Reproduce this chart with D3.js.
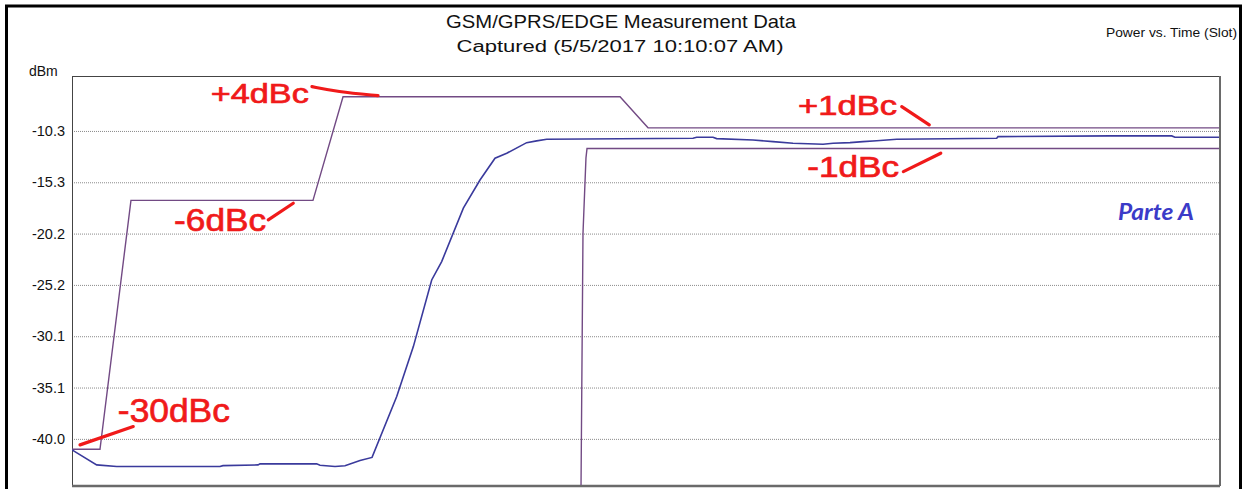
<!DOCTYPE html>
<meta charset="utf-8">
<head>
  <title>GSM/GPRS/EDGE Power vs. Time</title>
  <script src="https://cdn.jsdelivr.net/npm/d3@7"></script>
  <style>
    body { margin: 0; background: #fff; }
    text { font-family: "Liberation Sans", Arial, sans-serif; }
    .grid line { stroke: #8a8a8a; stroke-dasharray: 1,1; }
    .grid path { display: none; }
  </style>
</head>
<body>
<div id="chart"></div>
<script>
  // ---- data (time in % of slot view, power in dBm) ----
  var tickValues = [-10.3, -15.25, -20.2, -25.15, -30.1, -35.05, -40.0];
  var tickLabels = ["-10.3", "-15.3", "-20.2", "-25.2", "-30.1", "-35.1", "-40.0"];

  // upper limit mask
  var upperT = [0, 2.44, 5.14, 21.01, 23.63, 47.78, 50.22, 100];
  var upperV = [-41.0, -41.0, -17.0, -17.0, -7.0, -7.0, -10.0, -10.0];

  // lower limit mask (starts below the visible range)
  var lowerT = [44.34, 44.55, 44.81, 44.90, 100];
  var lowerV = [-50.0, -20.2, -12.9, -12.0, -12.0];

  // measured burst
  var traceT = [0, 2.15, 3.90, 12.90, 13.16, 16.22, 16.39, 21.33, 21.62, 22.93, 23.80, 25.11, 26.16,
                28.31, 29.76, 31.36, 32.23, 34.12, 35.57, 36.88, 37.90, 39.64, 40.51, 41.39,
                54.14, 54.46, 55.88, 56.20, 59.37, 61.12, 62.86, 65.48, 66.35, 67.83, 68.96,
                70.16, 71.90, 80.62, 80.73, 90.50, 95.88, 96.16, 100];
  var traceV = [-41.06, -42.51, -42.67, -42.67, -42.58, -42.51, -42.41, -42.41, -42.54, -42.67, -42.60, -42.09, -41.79,
                -35.92, -31.10, -24.67, -22.90, -17.75, -15.03, -12.93, -12.45, -11.43, -11.26, -11.10,
                -11.00, -10.91, -10.91, -11.04, -11.17, -11.33, -11.49, -11.58, -11.49, -11.43, -11.33,
                -11.24, -11.10, -11.00, -10.85, -10.78, -10.78, -10.91, -10.91];

  // annotations (red hand-drawn notes)
  var noteText = ["+4dBc", "-6dBc", "-30dBc", "+1dBc", "-1dBc"];
  var noteT    = [12.1, 8.9, 4.0, 63.3, 64.1];
  var noteV    = [-7.6, -19.91, -38.33, -8.76, -14.71];
  var noteLead = [
    [[20.92, -6.03], [23.08, -6.51], [26.68, -6.90]],
    [[17.11, -18.88], [19.29, -17.27]],
    [[0.70, -40.58], [5.34, -38.81]],
    [[72.34, -7.96], [74.74, -9.72]],
    [[72.48, -14.22], [75.74, -12.45]]
  ];

  // ---- layout ----
  const width = 1244, height = 489;
  const margin = {top: 76, right: 25, bottom: 4, left: 72};
  const pw = width - margin.left - margin.right;
  const ph = height - margin.top - margin.bottom;

  var svg = d3.select("#chart").append("svg")
      .attr("width", width).attr("height", height);

  // outer frame
  svg.append("rect")
      .attr("x", 6.5).attr("y", 6).attr("width", 1234).attr("height", 500)
      .attr("fill", "none").attr("stroke", "#000").attr("stroke-width", 3);

  var x = d3.scaleLinear().domain([0, 100]).range([0, pw]);
  var y = d3.scaleLinear().domain([-44.45, -5.0]).range([ph, 0]);

  // titles
  svg.append("text").attr("x", 621).attr("y", 28).attr("text-anchor", "middle")
      .attr("font-size", 19).attr("fill", "#111")
      .attr("textLength", 350).attr("lengthAdjust", "spacingAndGlyphs")
      .text("GSM/GPRS/EDGE Measurement Data");
  svg.append("text").attr("x", 620).attr("y", 52).attr("text-anchor", "middle")
      .attr("font-size", 16).attr("fill", "#111")
      .attr("textLength", 327).attr("lengthAdjust", "spacingAndGlyphs")
      .text("Captured (5/5/2017 10:10:07 AM)");
  svg.append("text").attr("x", 1237).attr("y", 37).attr("text-anchor", "end")
      .attr("font-size", 13.5).attr("fill", "#111")
      .attr("textLength", 131).attr("lengthAdjust", "spacingAndGlyphs")
      .text("Power vs. Time (Slot)");
  svg.append("text").attr("x", 29).attr("y", 76)
      .attr("font-size", 14).attr("fill", "#111")
      .text("dBm");

  var g = svg.append("g").attr("transform", "translate(" + margin.left + "," + margin.top + ")");

  g.append("clipPath").attr("id", "clip")
    .append("rect").attr("width", pw).attr("height", ph);

  // gridlines
  g.append("g").attr("class", "grid")
      .call(d3.axisLeft(y).tickValues(tickValues).tickSize(-pw).tickFormat(""));

  // tick labels
  var yAxis = g.append("g")
      .call(d3.axisLeft(y).tickValues(tickValues).tickSize(0).tickPadding(7)
            .tickFormat(function(d, i) { return tickLabels[i]; }));
  yAxis.select(".domain").remove();
  yAxis.selectAll("text").attr("font-size", 14.5).attr("fill", "#111")
      .style("font-family", "'Liberation Sans', Arial, sans-serif");

  // plot frame
  g.append("rect").attr("x", 0.5).attr("y", 0.5).attr("width", pw).attr("height", ph)
      .attr("fill", "none").attr("stroke", "#444").attr("stroke-width", 1);
  g.append("line").attr("x1", 0).attr("x2", pw + 1).attr("y1", ph + 1).attr("y2", ph + 1)
      .attr("stroke", "#6a6a6a").attr("stroke-width", 2.5);
  g.append("line").attr("x1", pw + 1).attr("x2", pw + 1).attr("y1", 0).attr("y2", ph + 1)
      .attr("stroke", "#6a6a6a").attr("stroke-width", 2);

  var line = d3.line().x(function(d) { return x(d[0]); }).y(function(d) { return y(d[1]); });
  var lines = g.append("g").attr("clip-path", "url(#clip)");

  lines.append("path").datum(d3.zip(upperT, upperV))
      .attr("d", line).attr("fill", "none").attr("stroke", "#724a84").attr("stroke-width", 1.4);
  lines.append("path").datum(d3.zip(lowerT, lowerV))
      .attr("d", line).attr("fill", "none").attr("stroke", "#724a84").attr("stroke-width", 1.4);
  lines.append("path").datum(d3.zip(traceT, traceV))
      .attr("d", line).attr("fill", "none").attr("stroke", "#3a3a9c").attr("stroke-width", 1.6);

  // annotations
  var noteSize = [28, 32, 33, 28, 30];
  var noteLen  = [98, 92, 112, 99, 92];
  var notes = g.append("g");
  noteText.forEach(function(t, i) {
    notes.append("text").attr("x", x(noteT[i])).attr("y", y(noteV[i]))
        .attr("font-size", noteSize[i]).attr("fill", "#f01a1a")
        .attr("stroke", "#f01a1a").attr("stroke-width", 0.7)
        .attr("textLength", noteLen[i]).attr("lengthAdjust", "spacingAndGlyphs")
        .text(t);
    notes.append("path").datum(noteLead[i])
        .attr("d", d3.line().curve(d3.curveBasis).x(function(d) { return x(d[0]); }).y(function(d) { return y(d[1]); }))
        .attr("fill", "none").attr("stroke", "#f01a1a").attr("stroke-width", 3.2)
        .attr("stroke-linecap", "round");
  });

  g.append("text").attr("x", x(91.19)).attr("y", y(-18.88))
      .attr("font-size", 22).attr("font-weight", "bold").attr("font-style", "italic")
      .attr("fill", "#3b3bc8").style("font-family", "Lato, 'Open Sans', sans-serif")
      .attr("textLength", 76).attr("lengthAdjust", "spacingAndGlyphs")
      .text("Parte A");
</script>
</body>
</html>
